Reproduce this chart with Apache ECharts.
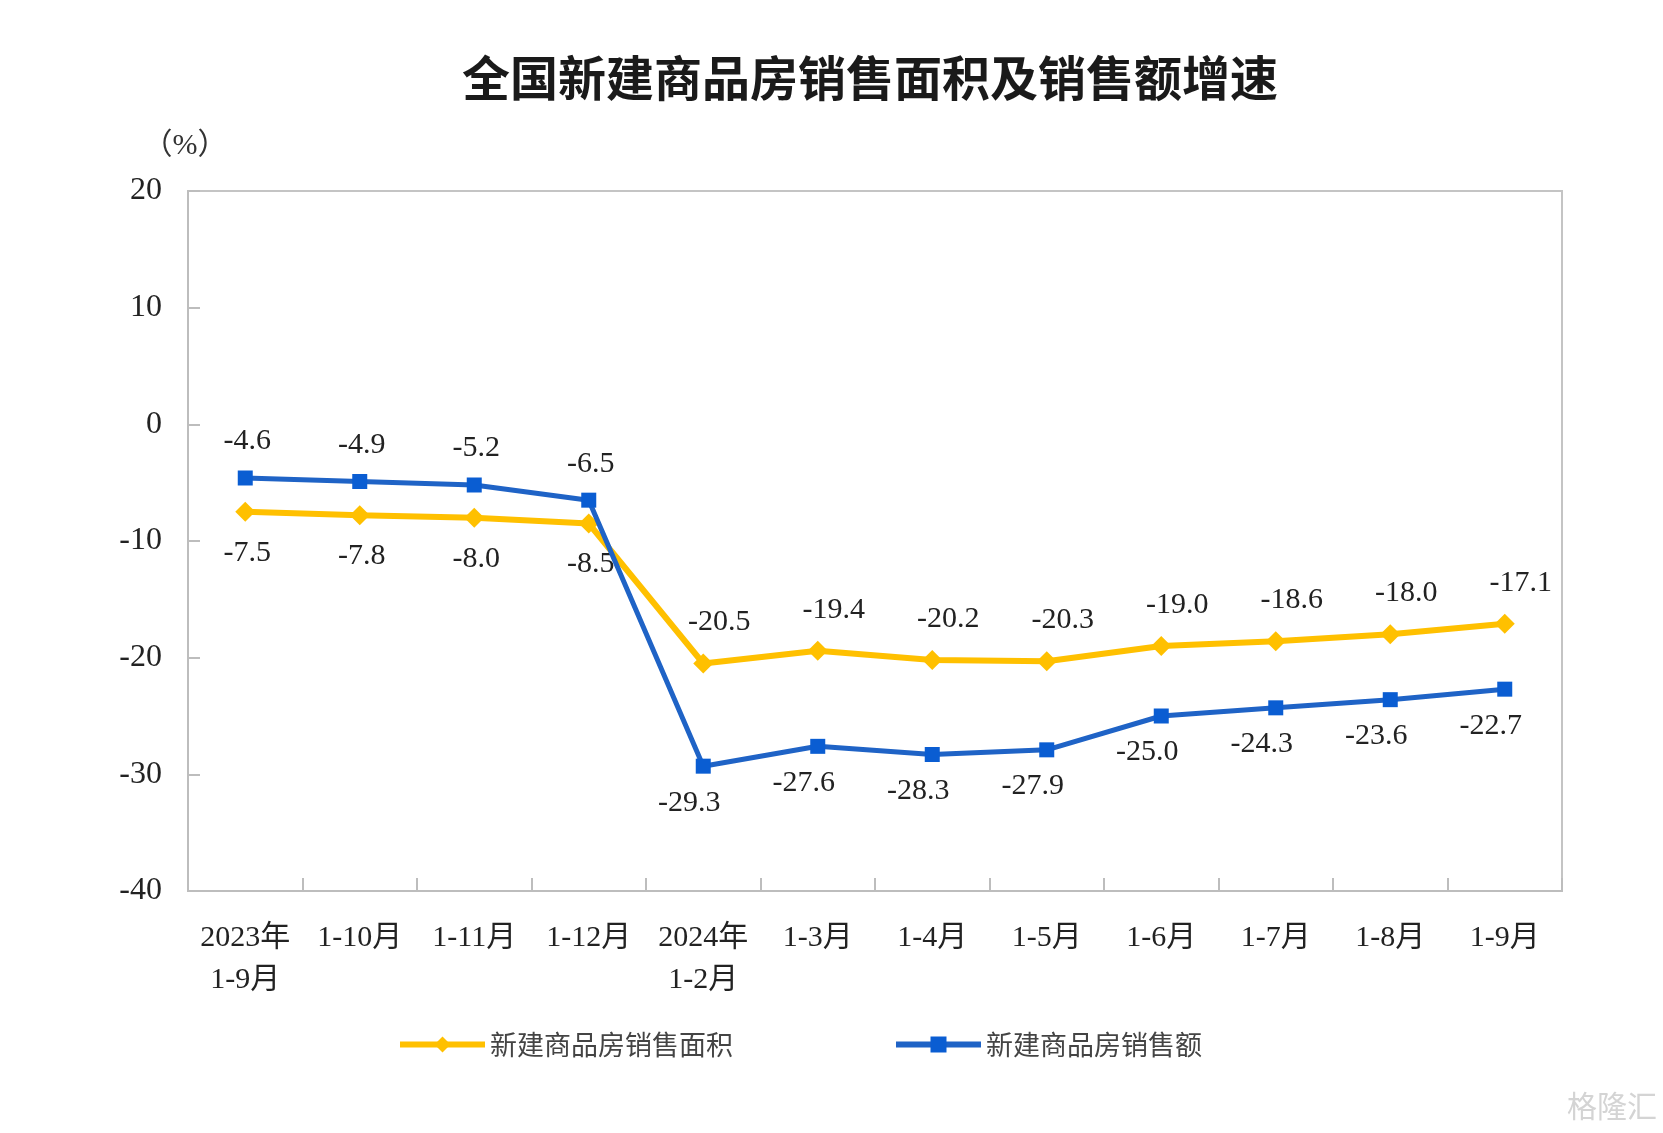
<!DOCTYPE html>
<html>
<head>
<meta charset="utf-8">
<script src="https://cdn.jsdelivr.net/npm/echarts@6/dist/echarts.min.js"></script>
<style>
html,body{margin:0;padding:0;background:#fff;}
#main{width:1663px;height:1133px;}
</style>
</head>
<body>
<div id="main"></div>
<script>
const categories = ['2023年\n1-9月','1-10月','1-11月','1-12月','2024年\n1-2月','1-3月','1-4月','1-5月','1-6月','1-7月','1-8月','1-9月'];
const areaGrowth = [-7.5,-7.8,-8.0,-8.5,-20.5,-19.4,-20.2,-20.3,-19.0,-18.6,-18.0,-17.1];
const salesGrowth = [-4.6,-4.9,-5.2,-6.5,-29.3,-27.6,-28.3,-27.9,-25.0,-24.3,-23.6,-22.7];
const seriesNames = ['新建商品房销售面积','新建商品房销售额'];
const titleText = '全国新建商品房销售面积及销售额增速';
const yMin = -40, yMax = 20, yStep = 10;

const serif = '"Liberation Serif","Noto Sans CJK SC",serif';
const YELLOW = '#FFC000';
const BLUE = '#1F63C6';
const BLUE_MK = '#0A5DD2';

function buildData(vals, topUntil, isArea) {
  return vals.map((v, i) => {
    const first = i < topUntil;
    let pos;
    if (isArea) pos = first ? 'bottom' : 'top';
    else pos = first ? 'top' : 'bottom';
    const dx = first ? 2 : (isArea ? 16 : -14);
    return { value: v, label: { position: pos, offset: [dx, 0] } };
  });
}

const chart = echarts.init(document.getElementById('main'));
chart.setOption({
  backgroundColor: '#fff',
  animation: false,
  title: {
    text: titleText,
    left: 457,
    top: 49,
    textStyle: { fontFamily: '"Noto Sans CJK SC",sans-serif', fontSize: 48, fontWeight: 'bold', color: '#1a1a1a' }
  },
  legend: {
    bottom: 70,
    left: 392,
    itemWidth: 85,
    itemHeight: 20,
    itemGap: 160,
    lineStyle: { width: 6 },
    textStyle: { fontFamily: '"Noto Sans CJK SC",serif', fontSize: 27, color: '#444' },
    data: seriesNames
  },
  grid: {
    left: 188, right: 101, top: 191, bottom: 242,
    show: true, borderColor: '#c4c4c4', borderWidth: 2
  },
  xAxis: {
    type: 'category',
    data: categories,
    boundaryGap: true,
    axisLine: { onZero: false, lineStyle: { color: '#bdbdbd', width: 2 } },
    axisTick: { show: true, inside: true, length: 13, lineStyle: { color: '#bdbdbd', width: 2 } },
    axisLabel: { margin: 26, fontFamily: serif, fontSize: 30, lineHeight: 42, color: '#222', interval: 0 },
    splitLine: { show: false }
  },
  yAxis: {
    type: 'value',
    min: yMin, max: yMax, interval: yStep,
    name: '（%）',
    nameLocation: 'end',
    nameGap: 30,
    nameTextStyle: { fontFamily: serif, fontSize: 30, color: '#333', align: 'center', padding: [0, 6, 0, 0] },
    axisLine: { show: true, lineStyle: { color: '#bdbdbd', width: 2 } },
    axisTick: { show: true, inside: true, length: 12, lineStyle: { color: '#bdbdbd', width: 2 } },
    axisLabel: { margin: 26, fontFamily: serif, fontSize: 32, color: '#222' },
    splitLine: { show: false }
  },
  series: [
    {
      name: seriesNames[0],
      type: 'line',
      data: buildData(areaGrowth, 4, true),
      symbol: 'diamond',
      symbolSize: 20,
      itemStyle: { color: YELLOW },
      lineStyle: { color: YELLOW, width: 6 },
      label: { show: true, distance: 16, fontFamily: serif, fontSize: 30, color: '#222',
        formatter: p => p.value.toFixed(1) },
      z: 2
    },
    {
      name: seriesNames[1],
      type: 'line',
      data: buildData(salesGrowth, 4, false),
      symbol: 'rect',
      symbolSize: 15,
      itemStyle: { color: BLUE_MK },
      lineStyle: { color: BLUE, width: 5 },
      label: { show: true, distance: 14, fontFamily: serif, fontSize: 30, color: '#222',
        formatter: p => p.value.toFixed(1) },
      z: 3
    }
  ],
  graphic: [
    {
      type: 'text',
      right: 6,
      bottom: 12,
      style: { text: '格隆汇', fontFamily: '"Noto Sans CJK SC",sans-serif', fontSize: 30, fill: '#d4d4d4' }
    }
  ]
});
</script>
</body>
</html>
